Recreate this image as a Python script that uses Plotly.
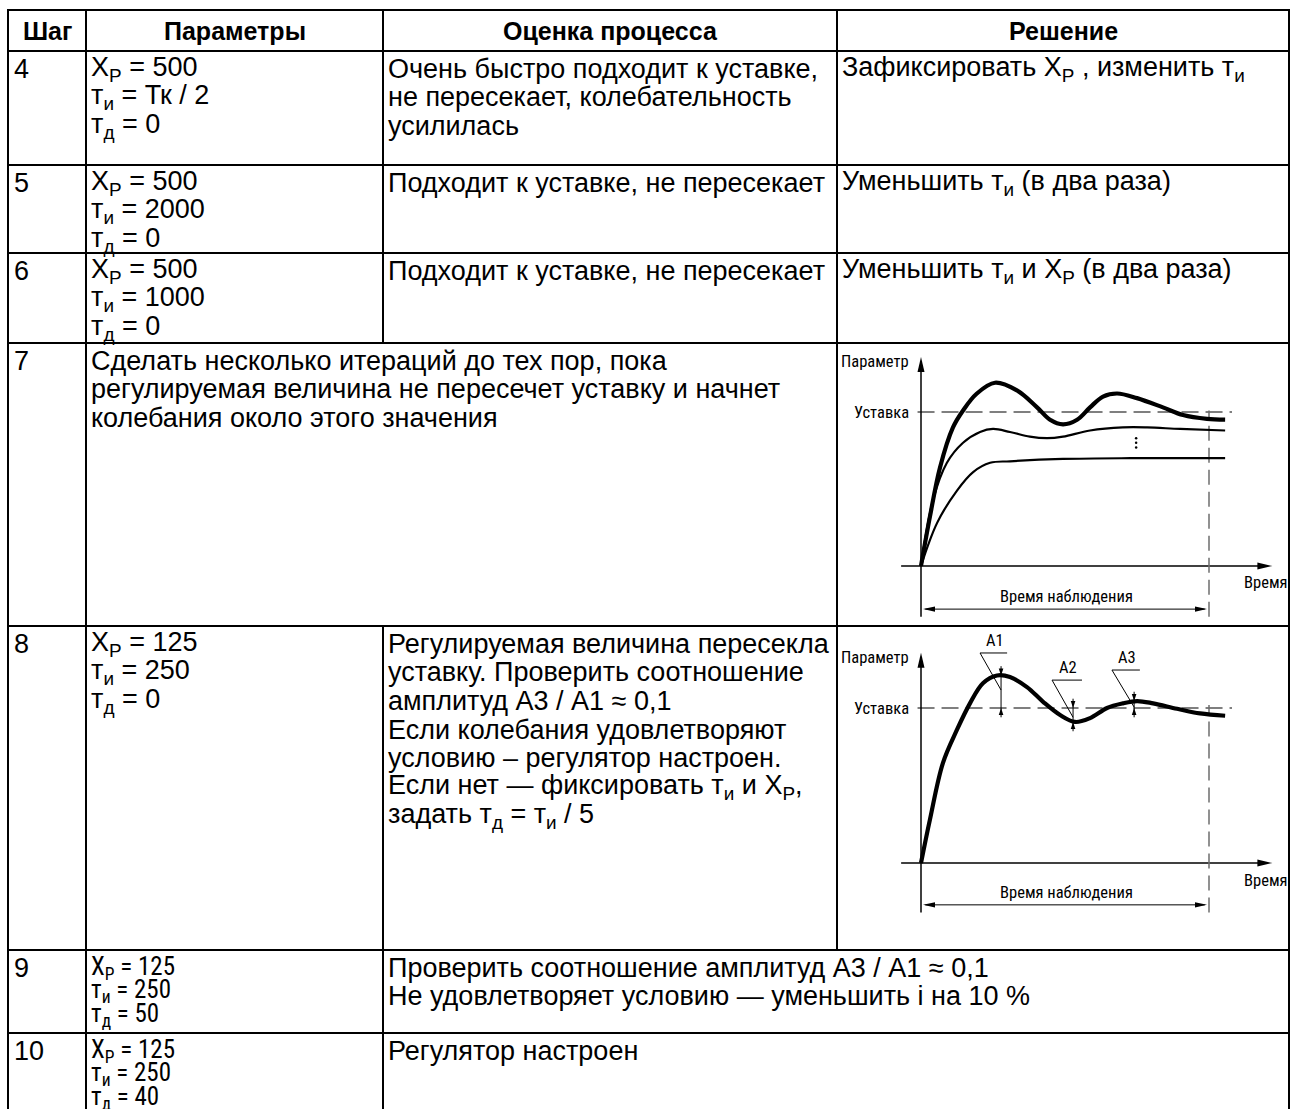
import plotly.graph_objects as go

W, H = 1291, 1109

# ---------------- table text ----------------
header = ["Шаг", "Параметры", "Оценка процесса", "Решение"]
steps = ["4", "5", "6", "7", "8", "9", "10"]

XP, TI, TD = "X<sub>P</sub>", "т<sub>и</sub>", "т<sub>д</sub>"

params = [
    [f"{XP} = 500", f"{TI} = Тк / 2", f"{TD} = 0"],
    [f"{XP} = 500", f"{TI} = 2000", f"{TD} = 0"],
    [f"{XP} = 500", f"{TI} = 1000", f"{TD} = 0"],
    [],
    [f"{XP} = 125", f"{TI} = 250", f"{TD} = 0"],
    [f"{XP} = 125", f"{TI} = 250", f"{TD} = 50"],
    [f"{XP} = 125", f"{TI} = 250", f"{TD} = 40"],
]
assess = [
    ["Очень быстро подходит к уставке,", "не пересекает, колебательность", "усилилась"],
    ["Подходит к уставке, не пересекает"],
    ["Подходит к уставке, не пересекает"],
    ["Сделать несколько итераций до тех пор, пока",
     "регулируемая величина не пересечет уставку и начнет",
     "колебания около этого значения"],
    ["Регулируемая величина пересекла", "уставку. Проверить соотношение",
     "амплитуд А3 / А1 ≈ 0,1", "Если колебания удовлетворяют",
     "условию – регулятор настроен.", f"Если нет — фиксировать {TI} и {XP},",
     f"задать {TD} = {TI} / 5"],
    ["Проверить соотношение амплитуд А3 / А1 ≈ 0,1",
     "Не удовлетворяет условию — уменьшить i на 10 %"],
    ["Регулятор настроен"],
]
decide = [
    [f"Зафиксировать {XP} , изменить {TI}"],
    [f"Уменьшить {TI} (в два раза)"],
    [f"Уменьшить {TI} и {XP} (в два раза)"],
    [], [], [], [],
]
assess_col = [2, 2, 2, 1, 2, 2, 2]   # column index where assessment text starts
compact_params = [False, False, False, False, False, True, True]

# ---------------- diagram data (time units, setpoint = 1) ----------------
d1_thick_t = [0, 0.31, 0.66, 1.11, 1.46, 1.94, 2.57, 3.33, 4.03, 4.48, 4.93, 5.42, 5.87, 6.32, 6.81, 7.5, 8.4, 9.1, 9.93, 10.56]
d1_thick_v = [0, 0.32, 0.64, 0.90, 1.01, 1.12, 1.19, 1.14, 1.03, 0.95, 0.92, 0.95, 1.03, 1.10, 1.12, 1.09, 1.03, 0.98, 0.955, 0.95]
d1_mid_t = [0, 0.42, 0.90, 1.46, 2.05, 2.5, 3.09, 3.78, 4.38, 4.93, 5.87, 7.01, 7.85, 9.0, 10.56]
d1_mid_v = [0, 0.43, 0.67, 0.80, 0.87, 0.89, 0.87, 0.84, 0.83, 0.84, 0.88, 0.90, 0.90, 0.89, 0.88]
d1_low_t = [0, 0.56, 1.25, 1.81, 2.4, 3.09, 4.93, 7.26, 10.56]
d1_low_v = [0, 0.28, 0.49, 0.61, 0.67, 0.68, 0.695, 0.70, 0.70]
d1_dots_t = [7.47, 7.47, 7.47]
d1_dots_v = [0.77, 0.80, 0.83]

d2_t = [0, 0.31, 0.76, 1.25, 1.70, 2.15, 2.64, 3.09, 3.68, 4.24, 4.83, 5.35, 5.87, 6.46, 7.01, 7.5, 8.06, 8.89, 9.69, 10.56]
d2_v = [0, 0.28, 0.645, 0.86, 1.03, 1.16, 1.21, 1.20, 1.135, 1.04, 0.955, 0.91, 0.935, 1.0, 1.03, 1.045, 1.03, 0.995, 0.965, 0.95]

amp_labels = ["A1", "A2", "A3"]
amp_t = [2.78, 5.28, 7.40]
amp_top = [1.21, 1.00, 1.045]
amp_bot = [1.00, 0.91, 1.00]
lead_t0 = [2.05, 4.55, 6.63]
lead_t1 = [2.99, 5.59, 7.60]
lead_v = [1.355, 1.18, 1.245]
lead_end_v = [1.116, 0.94, 1.006]

obs_end = 10.0

# ---------------- layout geometry (window pixels) ----------------
col_x = [8, 86, 383, 837, 1289]
row_y = [10, 51, 165, 253, 343, 626, 950, 1033]
LINE_H = 28.7
FIRST = 17.5
COMPACT_LINE_H = 23.8

MAIN_FONT = "Liberation Sans, Arial, sans-serif"
SMALL_FONT = "Liberation Sans Narrow, Roboto Condensed, Roboto, sans-serif"
BODY_SIZE = 27
COMPACT_SIZE = 25
HEAD_SIZE = 25
SMALL_SIZE = 16.5

fig = go.Figure()
shapes = []
annotations = []

def hline(y, x0, x1, w=2):
    shapes.append(dict(type="line", xref="x", yref="y", x0=x0, x1=x1, y0=y, y1=y,
                       line=dict(color="black", width=w)))

def vline(x, y0, y1, w=2):
    shapes.append(dict(type="line", xref="x", yref="y", x0=x, x1=x, y0=y0, y1=y1,
                       line=dict(color="black", width=w)))

for y in row_y:
    hline(y, col_x[0] - 1, col_x[4] + 1)
vline(col_x[0], row_y[0], H)
vline(col_x[1], row_y[0], H)
vline(col_x[2], row_y[0], row_y[4])
vline(col_x[2], row_y[5], H)
vline(col_x[3], row_y[0], row_y[6])
vline(col_x[4], row_y[0], H)

def txt(x, y, s, size=BODY_SIZE, anchor="left", bold=False, ref=("x", "y"), font=MAIN_FONT, color="black"):
    annotations.append(dict(x=x, y=y, xref=ref[0], yref=ref[1], text=(f"<b>{s}</b>" if bold else s),
                            showarrow=False, xanchor=anchor, yanchor="middle",
                            font=dict(family=font, size=size, color=color), borderpad=0))

# header
for i, h in enumerate(header):
    txt((col_x[i] + col_x[i + 1]) / 2, (row_y[0] + row_y[1]) / 2, h, size=HEAD_SIZE,
        anchor="center", bold=True)

# body rows
for r in range(len(steps)):
    top = row_y[r + 1]
    txt(col_x[0] + 5, top + FIRST, steps[r])
    if compact_params[r]:
        lh, ps, pf = COMPACT_LINE_H, COMPACT_SIZE, SMALL_FONT
    else:
        lh, ps, pf = LINE_H, BODY_SIZE, MAIN_FONT
    for k, s in enumerate(params[r]):
        txt(col_x[1] + 4, top + FIRST + k * lh, s, size=ps, font=pf)
    for k, s in enumerate(assess[r]):
        txt(col_x[assess_col[r]] + 4, top + FIRST + k * LINE_H, s)
    for k, s in enumerate(decide[r]):
        txt(col_x[3] + 4, top + FIRST + k * LINE_H, s)

# invisible trace to keep base axes
fig.add_trace(go.Scatter(x=[0], y=[0], mode="markers", marker=dict(opacity=0), xaxis="x", yaxis="y",
                         hoverinfo="skip"))

# ---------------- diagrams ----------------
SX = 28.8  # px per time unit

def setup_axes(n, cell, origin, sy):
    x0, x1, y0, y1 = cell
    ox, oy = origin
    fig.update_layout(**{
        f"xaxis{n}": dict(domain=[x0 / W, x1 / W], range=[(x0 - ox) / SX, (x1 - ox) / SX],
                          visible=False, anchor=f"y{n}", fixedrange=True),
        f"yaxis{n}": dict(domain=[1 - y1 / H, 1 - y0 / H], range=[(oy - y1) / sy, (oy - y0) / sy],
                          visible=False, anchor=f"x{n}", fixedrange=True),
    })

def seg(n, xs, ys, width=1.5, color="black", dash=None, shape="linear"):
    fig.add_trace(go.Scatter(x=xs, y=ys, mode="lines", xaxis=f"x{n}", yaxis=f"y{n}",
                             line=dict(color=color, width=width, dash=dash, shape=shape, smoothing=1.0),
                             hoverinfo="skip", cliponaxis=False))

def arrowhead(n, x, y, direction, length=14, half=3.5):
    if direction == "up":
        p = f"M0,0 L{-half},{-length} L{half},{-length} Z"
    elif direction == "down":
        p = f"M0,0 L{-half},{length} L{half},{length} Z"
    elif direction == "right":
        p = f"M0,0 L{-length},{half} L{-length},{-half} Z"
    else:
        p = f"M0,0 L{length},{half} L{length},{-half} Z"
    shapes.append(dict(type="path", xref=f"x{n}", yref=f"y{n}", xsizemode="pixel", ysizemode="pixel",
                       xanchor=x, yanchor=y, path=p, fillcolor="black", line=dict(width=0)))

def diagram_frame(n, sy, ylo, obs_top, va, vlab):
    ref = (f"x{n}", f"y{n}")
    ytip = 1.357
    xtip = 12.2
    seg(n, [0, 0], [ylo, ytip - 10 / sy], width=1.5)
    arrowhead(n, 0, ytip, "up", 15, 3.5)
    seg(n, [-0.69, xtip - 10 / SX], [0, 0], width=1.5)
    arrowhead(n, xtip, 0, "right", 15, 3.5)
    seg(n, [-0.12, 10.8], [1, 1], width=1.2, dash="17px,7px")
    seg(n, [obs_end, obs_end], [ylo, obs_top], width=1.5, color="#6e6e6e", dash="15px,7px")
    seg(n, [0.15, obs_end - 0.15], [va, va], width=1.0)
    arrowhead(n, 0.07, va, "left", 12, 2.6)
    arrowhead(n, obs_end - 0.07, va, "right", 12, 2.6)
    txt(-0.38, 1.325, "Параметр", size=SMALL_SIZE, anchor="right", ref=ref, font=SMALL_FONT)
    txt(-0.38, 1.0, "Уставка", size=SMALL_SIZE, anchor="right", ref=ref, font=SMALL_FONT)
    txt(11.18, -0.11, "Время", size=SMALL_SIZE, anchor="left", ref=ref, font=SMALL_FONT)
    txt(5.05, vlab, "Время наблюдения", size=SMALL_SIZE, anchor="center", ref=ref, font=SMALL_FONT)

# diagram 1 (row 7)
SY1 = 154.0
setup_axes(2, (col_x[3], col_x[4], row_y[4], row_y[5]), (921, 566), SY1)
diagram_frame(2, SY1, -0.33, 1.01, -0.28, -0.20)
seg(2, d1_low_t, d1_low_v, width=2.2, shape="spline")
seg(2, d1_mid_t, d1_mid_v, width=2.2, shape="spline")
seg(2, d1_thick_t, d1_thick_v, width=4.2, shape="spline")
fig.add_trace(go.Scatter(x=d1_dots_t, y=d1_dots_v, mode="markers", xaxis="x2", yaxis="y2",
                         marker=dict(color="black", size=2.5), hoverinfo="skip"))

# diagram 2 (row 8)
SY2 = 155.0
setup_axes(3, (col_x[3], col_x[4], row_y[5], row_y[6]), (921, 863), SY2)
diagram_frame(3, SY2, -0.32, 1.02, -0.27, -0.19)
seg(3, d2_t, d2_v, width=4.2, shape="spline")
for i in range(3):
    seg(3, [amp_t[i], amp_t[i]], [amp_top[i] + 0.06, amp_bot[i] - 0.06], width=1.0)
    arrowhead(3, amp_t[i], amp_top[i], "down", 7, 2.3)
    arrowhead(3, amp_t[i], amp_bot[i], "up", 7, 2.3)
    seg(3, [lead_t1[i], lead_t0[i], amp_t[i]], [lead_v[i], lead_v[i], lead_end_v[i]], width=1.0)
    txt((lead_t0[i] + lead_t1[i]) / 2 + 0.05, lead_v[i] + 0.08, amp_labels[i], size=SMALL_SIZE,
        anchor="center", ref=("x3", "y3"), font=SMALL_FONT)

fig.update_layout(
    width=W, height=H, margin=dict(l=0, r=0, t=0, b=0),
    paper_bgcolor="white", plot_bgcolor="rgba(0,0,0,0)",
    xaxis=dict(range=[0, W], visible=False, domain=[0, 1], fixedrange=True),
    yaxis=dict(range=[H, 0], visible=False, domain=[0, 1], fixedrange=True),
    showlegend=False, shapes=shapes, annotations=annotations,
)

PAGE_JS = ("document.body.style.margin='0px';document.body.style.overflow='hidden';"
           "document.documentElement.style.overflow='hidden';")
fig.write_html("out.html", config={"displayModeBar": False}, post_script=PAGE_JS)
